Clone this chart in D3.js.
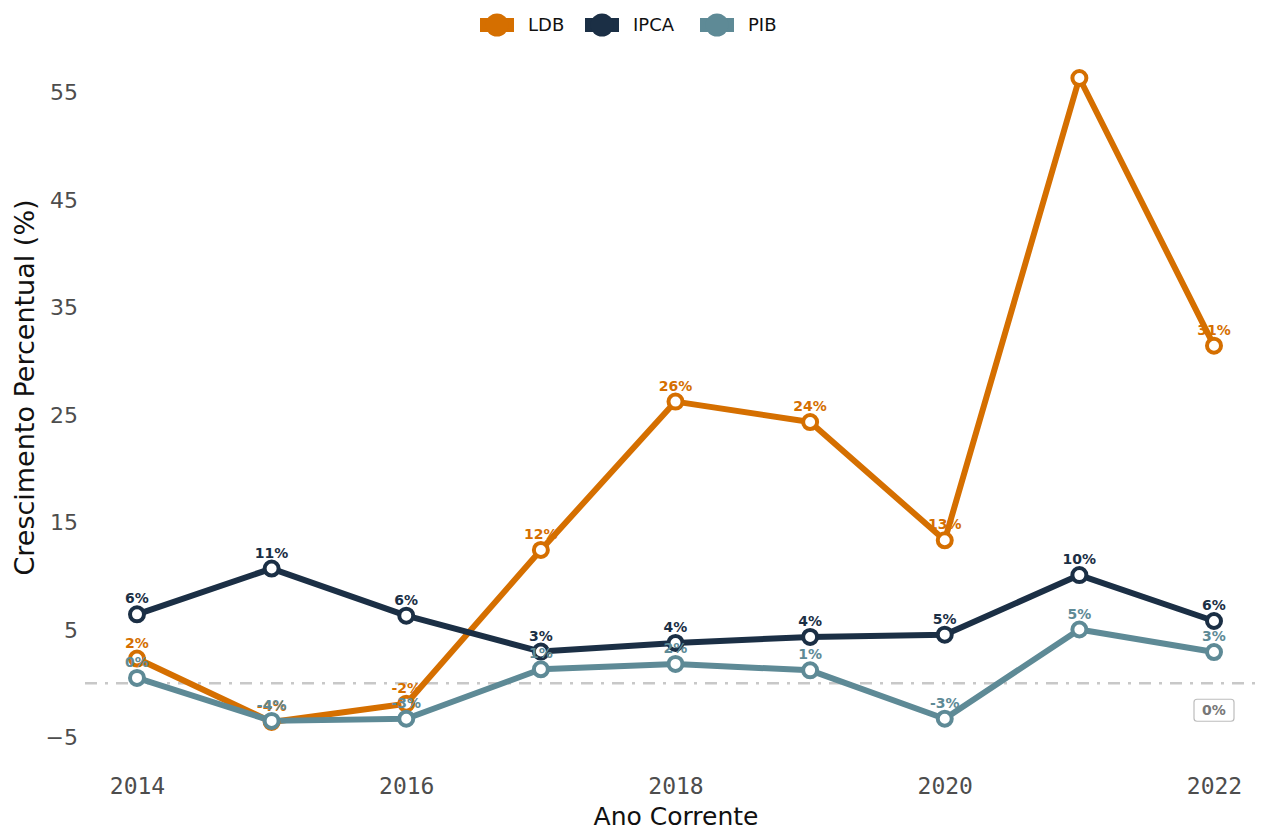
<!DOCTYPE html>
<html>
<head>
<meta charset="utf-8">
<script src="https://cdn.jsdelivr.net/npm/d3@7"></script>
<style>
  html, body { margin: 0; padding: 0; background: #ffffff; }
  svg { display: block; }
</style>
</head>
<body>
<svg id="chart" width="1262" height="832"></svg>
<script>
// Annual growth (%) by year
const years = [2014, 2015, 2016, 2017, 2018, 2019, 2020, 2021, 2022];
const ldb  = [2.3, -3.6, -1.9, 12.4, 26.2, 24.3, 13.3, 56.3, 31.4];
const ipca = [6.41, 10.67, 6.29, 2.95, 3.75, 4.31, 4.52, 10.06, 5.79];
const pib  = [0.5, -3.5, -3.3, 1.3, 1.8, 1.2, -3.3, 5.0, 2.9];

const seriesNames = ["LDB", "IPCA", "PIB"];
const seriesColors = ["#D56F00", "#1B2F45", "#5E8A96"];
const yTicks = [-5, 5, 15, 25, 35, 45, 55];
const xTicks = [2014, 2016, 2018, 2020, 2022];

const series = [ldb, ipca, pib].map((vals, i) => ({
  name: seriesNames[i],
  color: seriesColors[i],
  points: years.map((y, j) => ({ year: y, value: vals[j] }))
}));

// round half to even for labels
function roundEven(v) {
  const f = Math.floor(v), d = v - f;
  if (Math.abs(d - 0.5) < 1e-9) return (f % 2 === 0) ? f : f + 1;
  return Math.round(v);
}
const pct = v => { const r = roundEven(v); return (r === 0 ? 0 : r) + "%"; };

const svg = d3.select("#chart");
const x = d3.scaleLinear().domain([2014, 2022]).range([137, 1214]);
const y = d3.scaleLinear().domain([-5, 55]).range([737, 92]);

// panel clip
const panel = { left: 85, right: 1262, top: 68, bottom: 765 };
svg.append("defs").append("clipPath").attr("id", "panel-clip")
  .append("rect")
  .attr("x", panel.left).attr("y", panel.top)
  .attr("width", panel.right - panel.left).attr("height", panel.bottom - panel.top);

// y tick labels
const yAxis = d3.axisLeft(y).tickValues(yTicks).tickSize(0).tickPadding(0).tickFormat(d3.format("d"));
const gy = svg.append("g").attr("transform", "translate(78,0)").call(yAxis);
gy.select(".domain").remove();
gy.selectAll("text")
  .attr("font-family", "DejaVu Sans, Verdana, sans-serif")
  .attr("font-size", 22)
  .attr("fill", "#4D4D4D")
  .attr("dy", "0.36em");

// x tick labels
const xAxis = d3.axisBottom(x).tickValues(xTicks).tickSize(0).tickPadding(0).tickFormat(d3.format("d"));
const gx = svg.append("g").attr("transform", "translate(0,777)").call(xAxis);
gx.select(".domain").remove();
gx.selectAll("text")
  .attr("font-family", "DejaVu Sans Mono, monospace")
  .attr("font-size", 23)
  .attr("fill", "#4D4D4D")
  .attr("dy", "0.72em");

// axis titles
svg.append("text")
  .attr("x", 676).attr("y", 825)
  .attr("text-anchor", "middle")
  .attr("font-family", "DejaVu Sans, Verdana, sans-serif")
  .attr("font-size", 25)
  .attr("fill", "#111")
  .text("Ano Corrente");

svg.append("text")
  .attr("transform", `translate(34,${(92 + 737) / 2 - 27}) rotate(-90)`)
  .attr("text-anchor", "middle")
  .attr("font-family", "DejaVu Sans, Verdana, sans-serif")
  .attr("font-size", 27)
  .attr("fill", "#111")
  .text("Crescimento Percentual (%)");

// zero reference line
svg.append("line")
  .attr("x1", 85).attr("x2", 1258)
  .attr("y1", y(0)).attr("y2", y(0))
  .attr("stroke", "#C8C8C8").attr("stroke-width", 2.5)
  .attr("stroke-dasharray", "12,8,3,8");

// zero label box
const zg = svg.append("g").attr("transform", `translate(1214,${y(0) + 27})`);
zg.append("rect")
  .attr("x", -20).attr("y", -11).attr("width", 40).attr("height", 22)
  .attr("rx", 3).attr("fill", "#fff")
  .attr("stroke", "#BDBDBD").attr("stroke-width", 1.2);
zg.append("text")
  .attr("text-anchor", "middle").attr("dy", "0.36em")
  .attr("font-family", "DejaVu Sans, Verdana, sans-serif")
  .attr("font-weight", "bold").attr("font-size", 14)
  .attr("fill", "#777")
  .text(pct(0));

const plot = svg.append("g").attr("clip-path", "url(#panel-clip)");
const line = d3.line().x(d => x(d.year)).y(d => y(d.value));

// lines
plot.append("g").selectAll("path")
  .data(series).join("path")
  .attr("d", d => line(d.points))
  .attr("fill", "none")
  .attr("stroke", d => d.color)
  .attr("stroke-width", 6)
  .attr("stroke-linejoin", "round");

// points
plot.append("g").selectAll("g")
  .data(series).join("g")
  .attr("fill", "#fff")
  .attr("stroke", d => d.color)
  .attr("stroke-width", 4)
  .selectAll("circle")
  .data(d => d.points).join("circle")
  .attr("cx", d => x(d.year)).attr("cy", d => y(d.value))
  .attr("r", 7);

// value labels
plot.append("g").selectAll("g")
  .data(series).join("g")
  .attr("fill", d => d.color)
  .selectAll("text")
  .data(d => d.points).join("text")
  .attr("x", d => x(d.year)).attr("y", d => y(d.value) - 16)
  .attr("dy", "0.36em")
  .attr("text-anchor", "middle")
  .attr("font-family", "DejaVu Sans, Verdana, sans-serif")
  .attr("font-weight", "bold").attr("font-size", 14)
  .text(d => pct(d.value));

// legend
const legendX = [497, 602, 717];
const lg = svg.append("g").selectAll("g")
  .data(series).join("g")
  .attr("transform", (d, i) => `translate(${legendX[i]},25)`);
lg.append("rect")
  .attr("x", -17).attr("y", -7).attr("width", 34).attr("height", 14)
  .attr("fill", d => d.color);
lg.append("circle").attr("r", 11.5).attr("fill", d => d.color);
lg.append("text")
  .attr("x", 31).attr("dy", "0.36em")
  .attr("font-family", "DejaVu Sans, Verdana, sans-serif")
  .attr("font-size", 18)
  .attr("fill", "#111")
  .text(d => d.name);
</script>
</body>
</html>
